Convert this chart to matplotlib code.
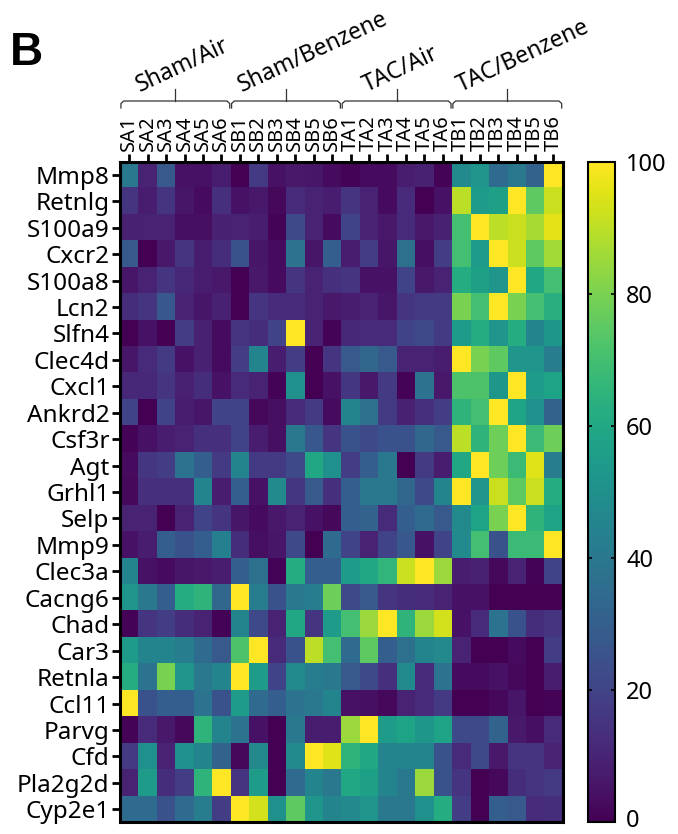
import numpy as np
import matplotlib
matplotlib.use("Agg")
import matplotlib.pyplot as plt
import matplotlib.transforms as mtransforms

plt.rcParams['font.family'] = ['Noto Sans', 'DejaVu Sans']

genes = ["Mmp8", "Retnlg", "S100a9", "Cxcr2", "S100a8", "Lcn2", "Slfn4", "Clec4d",
         "Cxcl1", "Ankrd2", "Csf3r", "Agt", "Grhl1", "Selp", "Mmp9", "Clec3a",
         "Cacng6", "Chad", "Car3", "Retnla", "Ccl11", "Parvg", "Cfd", "Pla2g2d", "Cyp2e1"]

groups = ["Sham/Air", "Sham/Benzene", "TAC/Air", "TAC/Benzene"]
samples = ["SA1", "SA2", "SA3", "SA4", "SA5", "SA6",
           "SB1", "SB2", "SB3", "SB4", "SB5", "SB6",
           "TA1", "TA2", "TA3", "TA4", "TA5", "TA6",
           "TB1", "TB2", "TB3", "TB4", "TB5", "TB6"]

# scaled expression (0-100), one row per gene, 6 samples per group
sham_air = [
    [40, 10, 28, 5, 5, 8], [15, 8, 15, 6, 3, 14], [9, 10, 10, 4, 4, 9],
    [28, 0, 7, 15, 8, 13], [6, 10, 15, 11, 8, 7], [13, 15, 27, 10, 6, 9],
    [0, 5, 0, 18, 9, 3], [6, 12, 17, 5, 9, 3], [11, 11, 15, 9, 13, 5],
    [20, 0, 20, 8, 6, 20], [1, 5, 8, 10, 14, 14], [3, 16, 18, 38, 30, 17],
    [2, 14, 14, 14, 45, 8], [10, 10, 0, 10, 20, 15], [5, 8, 30, 25, 30, 43],
    [45, 5, 3, 6, 7, 8], [52, 40, 30, 62, 65, 33], [1, 15, 18, 13, 10, 1],
    [55, 45, 45, 42, 35, 28], [62, 38, 80, 52, 40, 45], [100, 25, 30, 30, 38, 25],
    [1, 12, 7, 2, 65, 45], [17, 50, 10, 50, 45, 32], [10, 55, 13, 18, 65, 100],
    [35, 35, 25, 35, 42, 18],
]
sham_benzene = [
    [0, 17, 5, 7, 6, 3], [5, 7, 2, 12, 10, 8], [10, 8, 1, 22, 10, 3],
    [25, 6, 3, 38, 6, 30], [0, 7, 3, 15, 10, 14], [0, 15, 12, 12, 10, 7],
    [15, 13, 20, 100, 10, 1], [18, 45, 8, 18, 0, 15], [12, 10, 1, 50, 0, 5],
    [20, 2, 4, 12, 17, 3], [20, 8, 4, 40, 27, 15], [45, 17, 17, 22, 60, 50],
    [30, 5, 48, 16, 28, 14], [6, 3, 7, 10, 5, 2], [13, 4, 6, 22, 0, 35],
    [30, 37, 1, 62, 30, 30], [100, 42, 25, 40, 42, 78], [45, 22, 10, 60, 15, 55],
    [72, 100, 12, 25, 90, 70], [100, 55, 20, 48, 42, 40], [55, 35, 30, 38, 40, 45],
    [38, 5, 0, 40, 8, 8], [2, 47, 0, 48, 100, 95], [15, 55, 0, 35, 45, 40],
    [100, 93, 50, 75, 52, 45],
]
tac_air = [
    [1, 3, 3, 8, 9, 1], [15, 10, 3, 12, 0, 5], [20, 10, 7, 12, 7, 9],
    [8, 18, 6, 37, 4, 18], [15, 5, 5, 20, 7, 10], [8, 10, 6, 15, 17, 17],
    [11, 12, 12, 20, 22, 17], [28, 33, 28, 10, 10, 8], [16, 7, 17, 1, 38, 7],
    [45, 37, 17, 9, 14, 18], [25, 22, 25, 25, 33, 28], [18, 30, 40, 0, 17, 8],
    [30, 40, 40, 33, 22, 45], [30, 32, 12, 30, 35, 28], [20, 10, 20, 27, 5, 20],
    [55, 60, 66, 92, 100, 85], [22, 28, 15, 13, 12, 10], [70, 85, 100, 65, 85, 93],
    [35, 75, 30, 37, 45, 47], [28, 22, 14, 48, 12, 38], [5, 4, 2, 10, 12, 17],
    [85, 100, 55, 58, 53, 58], [65, 60, 45, 45, 45, 25], [60, 57, 45, 40, 85, 25],
    [47, 52, 40, 40, 50, 62],
]
tac_benzene = [
    [48, 52, 35, 40, 32, 100], [90, 55, 57, 100, 75, 92], [70, 100, 90, 92, 87, 96],
    [70, 55, 100, 92, 75, 86], [62, 57, 52, 100, 60, 70], [80, 70, 100, 80, 70, 63],
    [55, 62, 52, 62, 45, 53], [100, 80, 75, 52, 52, 42], [72, 72, 53, 100, 55, 58],
    [65, 70, 100, 58, 50, 32], [90, 65, 78, 100, 68, 78], [60, 100, 78, 68, 95, 42],
    [100, 52, 92, 75, 92, 62], [48, 58, 80, 100, 65, 58], [48, 70, 25, 68, 68, 100],
    [8, 9, 2, 10, 1, 20], [5, 5, 0, 0, 0, 0], [5, 12, 38, 25, 13, 15],
    [10, 0, 0, 3, 0, 18], [3, 3, 5, 2, 0, 8], [0, 0, 2, 6, 0, 1],
    [22, 22, 32, 7, 4, 12], [12, 22, 7, 15, 15, 10], [15, 0, 2, 13, 15, 17],
    [18, 0, 30, 28, 12, 13],
]

data = np.hstack([np.array(sham_air), np.array(sham_benzene),
                  np.array(tac_air), np.array(tac_benzene)])

fig = plt.figure(figsize=(6.78, 8.34), dpi=100)
ax = fig.add_axes([0.177, 0.0138, 0.6528, 0.7925])
cax = fig.add_axes([0.867, 0.0138, 0.04, 0.7925])

im = ax.imshow(data, cmap="viridis", vmin=0, vmax=100, aspect="auto",
               interpolation="nearest")

ax.xaxis.tick_top()
ax.set_xticks(range(len(samples)))
ax.set_xticklabels(samples, rotation=90, fontsize=14.5)
ax.set_yticks(range(len(genes)))
ax.set_yticklabels(genes, fontsize=17.5)
ax.tick_params(axis="both", width=2, length=6, pad=1.5)
for s in ax.spines.values():
    s.set_linewidth(2.2)

cb = fig.colorbar(im, cax=cax)
cb.set_ticks([0, 20, 40, 60, 80, 100])
cb.outline.set_linewidth(1.5)
cax.tick_params(labelsize=17, direction="in", length=3, width=1.2,
                left=True, right=True, pad=8)

# group brackets and labels above the sample names
trans = mtransforms.blended_transform_factory(ax.transData, fig.transFigure)
y_bar = 1 - 101 / 834
y_end = 1 - 108 / 834
y_top = 1 - 89 / 834
label_x = [0.58, 6.1, 12.9, 18.0]
for g, name in enumerate(groups):
    x0 = g * 6 - 0.5 + 0.05
    x1 = g * 6 + 5.5 - 0.05
    xm = (x0 + x1) / 2
    ax.plot([x0, x0, x0 + 0.15, x1 - 0.15, x1, x1], [y_end, y_bar - 0.003, y_bar, y_bar, y_bar - 0.003, y_end],
            transform=trans, color="#333333", lw=0.9, clip_on=False)
    ax.plot([xm, xm], [y_bar, y_top], transform=trans, color="#333333", lw=0.9, clip_on=False)
    ax.text(label_x[g], 1 - 92 / 834, name, transform=trans, rotation=25,
            rotation_mode="anchor", ha="left", va="baseline", fontsize=16.5)

fig.text(0.014, 1 - 65 / 834, "B", fontsize=33, fontweight="bold",
         family="Liberation Sans", va="baseline", ha="left")

# nudge the "0" label up a little so it stays inside the canvas
fig.canvas.draw()
zero_lbl = cax.yaxis.get_major_ticks()[0].label2
zero_lbl.set_transform(zero_lbl.get_transform()
                       + mtransforms.ScaledTranslation(0, 3 / 72, fig.dpi_scale_trans))

fig.savefig("out.png", dpi=100)
